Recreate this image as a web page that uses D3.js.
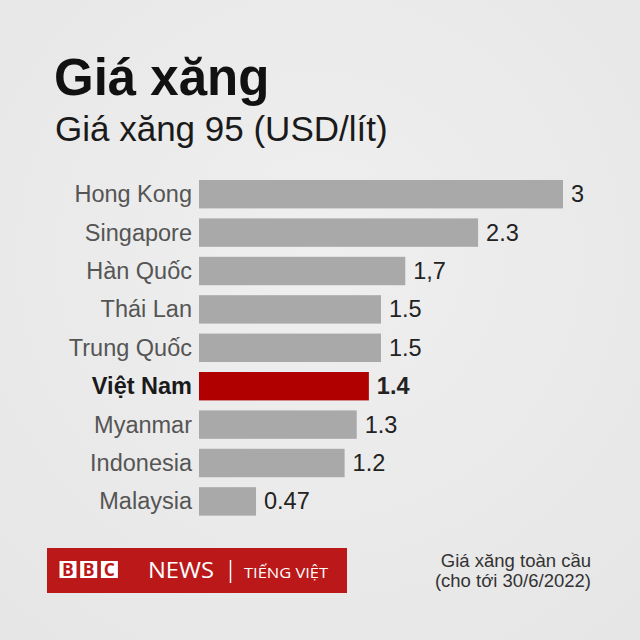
<!DOCTYPE html>
<html>
<head>
<meta charset="utf-8">
<script src="https://cdn.jsdelivr.net/npm/d3@7"></script>
<style>
  html, body { margin: 0; padding: 0; background: #ebebeb; }
  svg { display: block; }
</style>
</head>
<body>
<script>
// ---- Data ----
const categories = ["Hong Kong", "Singapore", "Hàn Quốc", "Thái Lan", "Trung Quốc", "Việt Nam", "Myanmar", "Indonesia", "Malaysia"];
const values = [3, 2.3, 1.7, 1.5, 1.5, 1.4, 1.3, 1.2, 0.47];
const valueLabels = ["3", "2.3", "1,7", "1.5", "1.5", "1.4", "1.3", "1.2", "0.47"];
const highlight = "Việt Nam";
const title = "Giá xăng";
const subtitle = "Giá xăng 95 (USD/lít)";
const noteLines = ["Giá xăng toàn cầu", "(cho tới 30/6/2022)"];

const W = 640, H = 640;
const svg = d3.select("body").append("svg").attr("width", W).attr("height", H);

// background with subtle paper feel
const defs = svg.append("defs");
const rg = defs.append("radialGradient").attr("id", "bg").attr("cx", "50%").attr("cy", "40%").attr("r", "75%");
rg.append("stop").attr("offset", "0%").attr("stop-color", "#efefef");
rg.append("stop").attr("offset", "100%").attr("stop-color", "#e6e6e6");
svg.append("rect").attr("width", W).attr("height", H).attr("fill", "url(#bg)");

const font = "'Liberation Sans', Arial, Helvetica, sans-serif";

// Title & subtitle
svg.append("text").attr("x", 54).attr("y", 95)
  .attr("font-family", font).attr("font-weight", "bold").attr("font-size", 51)
  .attr("fill", "#111").text(title);
svg.append("text").attr("x", 55).attr("y", 141)
  .attr("font-family", font).attr("font-size", 35)
  .attr("fill", "#1a1a1a").text(subtitle);

// Scales
const x = d3.scaleLinear().domain([0, 3]).range([199, 563]);
const y = d3.scaleBand().domain(categories).range([170, 525.6]).padding(0.26);

const rows = svg.append("g").selectAll("g").data(categories).join("g");

rows.append("rect")
  .attr("x", x(0))
  .attr("y", d => y(d))
  .attr("width", (d, i) => x(values[i]) - x(0))
  .attr("height", y.bandwidth())
  .attr("fill", d => d === highlight ? "#b00000" : "#a9a9a9");

rows.append("text")
  .attr("x", x(0) - 7)
  .attr("y", d => y(d) + y.bandwidth() / 2 + 8)
  .attr("text-anchor", "end")
  .attr("font-family", font).attr("font-size", 23.5)
  .attr("font-weight", d => d === highlight ? "bold" : "normal")
  .attr("fill", d => d === highlight ? "#1a1a1a" : "#555")
  .text(d => d);

rows.append("text")
  .attr("x", (d, i) => x(values[i]) + 8)
  .attr("y", d => y(d) + y.bandwidth() / 2 + 8)
  .attr("font-family", font).attr("font-size", 23.5)
  .attr("font-weight", d => d === highlight ? "bold" : "normal")
  .attr("fill", "#222")
  .text((d, i) => valueLabels[i]);

// BBC logo
const logo = svg.append("g");
logo.append("rect").attr("x", 47).attr("y", 548).attr("width", 300).attr("height", 45).attr("fill", "#bb1919");
["B", "B", "C"].forEach((l, i) => {
  const bx = 59.5 + i * 20.7;
  logo.append("rect").attr("x", bx).attr("y", 561).attr("width", 17).attr("height", 17).attr("fill", "#fff");
  logo.append("text").attr("x", bx + 8.5).attr("y", 576).attr("text-anchor", "middle")
    .attr("font-family", "'Open Sans', sans-serif").attr("font-weight", "bold").attr("font-size", 17.5)
    .attr("fill", "#bb1919").text(l);
});
logo.append("text").attr("x", 148).attr("y", 578)
  .attr("font-family", "'Open Sans', sans-serif").attr("font-size", 21.5)
  .attr("textLength", 66).attr("lengthAdjust", "spacingAndGlyphs")
  .attr("fill", "#fff").text("NEWS");
logo.append("line").attr("x1", 230.5).attr("x2", 230.5).attr("y1", 560).attr("y2", 583)
  .attr("stroke", "#fff").attr("stroke-width", 1.5);
logo.append("text").attr("x", 244).attr("y", 577.5)
  .attr("font-family", "'Open Sans', sans-serif").attr("font-size", 15)
  .attr("textLength", 84).attr("lengthAdjust", "spacingAndGlyphs")
  .attr("fill", "#fff").text("TIẾNG VIỆT");

// Footnote
noteLines.forEach((t, i) => {
  svg.append("text").attr("x", 591).attr("y", 567 + i * 20)
    .attr("text-anchor", "end")
    .attr("font-family", font).attr("font-size", 18.5)
    .attr("fill", "#333").text(t);
});
</script>
</body>
</html>
